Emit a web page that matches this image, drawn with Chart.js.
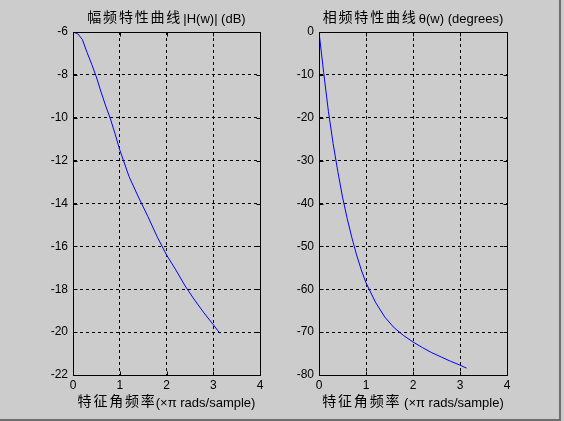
<!DOCTYPE html>
<html><head><meta charset="utf-8">
<script src="https://cdn.jsdelivr.net/npm/chart.js@4/dist/chart.umd.min.js"></script>
<style>
html,body{margin:0;padding:0;background:#cccccc;width:564px;height:421px;overflow:hidden;position:relative}
#c1{position:absolute;left:0;top:0}
#c2{position:absolute;left:282px;top:0}
#edgeR{position:absolute;left:559px;top:0;width:2px;height:421px;background:#6e6e6e}
#edgeB{position:absolute;left:0;top:419px;width:561px;height:2px;background:#6e6e6e}
</style></head><body>
<canvas id="c1" width="282" height="421"></canvas>
<canvas id="c2" width="282" height="421"></canvas>
<div id="edgeR"></div><div id="edgeB"></div>
<script>
// normalized frequency (x pi rad/sample)
const freq = [0, 0.1, 0.2, 0.3, 0.4, 0.5, 0.6, 0.7, 0.8, 0.9, 1.0, 1.2, 1.4, 1.6, 1.8, 2.0, 2.2, 2.4, 2.6, 2.8, 3.0, 3.14];
// magnitude |H(w)| in dB
const magDb = [-6.0, -6.08, -6.35, -6.95, -7.5, -8.1, -8.8, -9.45, -10.05, -10.75, -11.5, -12.75, -13.7, -14.6, -15.55, -16.4, -17.1, -17.85, -18.5, -19.1, -19.65, -20.05];
// phase theta(w) in degrees
const phaseDeg = [0, -9.5, -18.5, -26, -32.5, -38.5, -43.5, -48, -52, -55.5, -58.5, -63, -66.5, -69, -70.8, -72.3, -73.6, -74.8, -75.8, -76.8, -77.7, -78.4];
const xTickLabels = [0, 1, 2, 3, 4];
const magTickLabels = [-22, -20, -18, -16, -14, -12, -10, -8, -6];
const phaseTickLabels = [-80, -70, -60, -50, -40, -30, -20, -10, 0];
const magTitle = ["幅频特性曲线", "|H(w)| (dB)"];
const phaseTitle = ["相频特性曲线", "θ(w) (degrees)"];
const xLabelLeft = ["特征角频率", "(×π rads/sample)"];
const xLabelRight = ["特征角频率", " (×π rads/sample)"];

const CJK = '14px "Noto Sans CJK SC"';
const LAT = '13px "Liberation Sans", Arial, sans-serif';

function drawMixed(ctx, parts, cx, baseY, gap) {
  ctx.save();
  ctx.textBaseline = 'alphabetic';
  ctx.textAlign = 'left';
  ctx.fillStyle = '#000';
  const sp = 1.8;
  ctx.font = CJK;
  try { ctx.letterSpacing = '0px'; } catch (e) {}
  const w1 = ctx.measureText(parts[0]).width + sp * (parts[0].length - 1);
  ctx.font = LAT;
  const w2 = ctx.measureText(parts[1]).width;
  const total = w1 + gap + w2;
  let x = cx - total / 2;
  ctx.font = CJK;
  try { ctx.letterSpacing = sp + 'px'; } catch (e) {}
  ctx.fillText(parts[0], x, baseY - 1);
  try { ctx.letterSpacing = '0px'; } catch (e) {}
  x += w1 + gap;
  ctx.font = LAT;
  ctx.fillText(parts[1], x, baseY);
  ctx.restore();
}

const frame = {
  id: 'frame',
  afterDraw(chart, args, opts) {
    const { ctx, chartArea: a, scales: { x, y } } = chart;
    ctx.save();
    ctx.strokeStyle = '#000';
    ctx.lineWidth = 1;
    ctx.setLineDash([]);
    const L = Math.round(a.left) + 0.5, R = Math.round(a.right) + 0.5;
    const T = Math.round(a.top) + 0.5, B = Math.round(a.bottom) + 0.5;
    ctx.beginPath();
    ctx.rect(L, T, R - L, B - T);
    x.ticks.forEach(t => {
      const px = Math.round(x.getPixelForValue(t.value)) + 0.5;
      ctx.moveTo(px, B); ctx.lineTo(px, B - 4);
      ctx.moveTo(px, T); ctx.lineTo(px, T + 4);
    });
    y.ticks.forEach(t => {
      const py = Math.round(y.getPixelForValue(t.value)) + 0.5;
      ctx.moveTo(L, py); ctx.lineTo(L + 4, py);
      ctx.moveTo(R, py); ctx.lineTo(R - 4, py);
    });
    ctx.stroke();
    ctx.restore();
    const cx = (a.left + a.right) / 2;
    drawMixed(ctx, opts.title, cx, 23, 3);
    drawMixed(ctx, opts.xlabel, cx, 407, 1);
  }
};

function makeChart(id, values, yTicks, yMin, yMax, step, yWidth, padRight, title, xlabel) {
  return new Chart(document.getElementById(id), {
    type: 'line',
    data: {
      datasets: [{
        data: freq.map((f, i) => ({ x: f, y: values[i] })),
        borderColor: '#0000ff',
        borderWidth: 1,
        pointRadius: 0,
        fill: false,
        tension: 0
      }]
    },
    options: {
      responsive: false,
      animation: false,
      devicePixelRatio: 1,
      layout: { padding: { left: 0, top: 32, right: padRight, bottom: 0 } },
      plugins: {
        legend: { display: false },
        tooltip: { enabled: false },
        title: { display: false },
        frame: { title: title, xlabel: xlabel }
      },
      scales: {
        x: {
          type: 'linear', min: xTickLabels[0], max: xTickLabels[xTickLabels.length - 1],
          afterBuildTicks(s) { s.ticks = xTickLabels.map(v => ({ value: v })); },
          afterFit(s) { s.height = 46; },
          ticks: { color: '#000', font: { family: '"Liberation Sans", Arial', size: 12 }, padding: 3, maxRotation: 0 },
          grid: { color: '#000', lineWidth: 1, drawTicks: false },
          border: { display: true, color: '#000', dash: [3, 3] }
        },
        y: {
          type: 'linear', min: yMin, max: yMax,
          afterBuildTicks(s) { s.ticks = yTicks.map(v => ({ value: v })); },
          afterFit(s) { s.width = yWidth; },
          ticks: { color: '#000', font: { family: '"Liberation Sans", Arial', size: 12 }, padding: 5 },
          grid: { color: '#000', lineWidth: 1, drawTicks: false },
          border: { display: true, color: '#000', dash: [3, 3] }
        }
      }
    },
    plugins: [frame]
  });
}

makeChart('c1', magDb, magTickLabels, -22, -6, 2, 73, 22, magTitle, xLabelLeft);
makeChart('c2', phaseDeg, phaseTickLabels, -80, 0, 10, 37, 57, phaseTitle, xLabelRight);
</script>
</body></html>
